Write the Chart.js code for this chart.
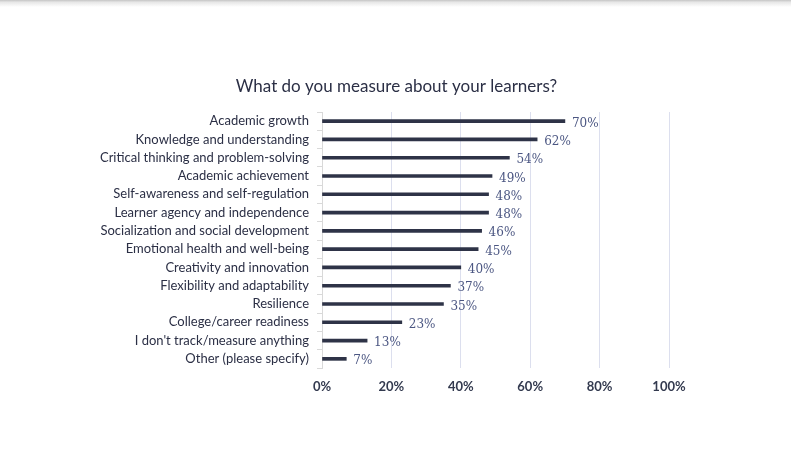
<!DOCTYPE html>
<html>
<head>
<meta charset="utf-8">
<script src="https://cdn.jsdelivr.net/npm/chart.js@4"></script>
<style>
	html, body { margin: 0; padding: 0; background: #fff; }
	#wrap { position: relative; width: 791px; height: 450px; }
	#shade { position: absolute; left: 0; top: 0; width: 791px; height: 7px;
		background: linear-gradient(#c4c4c4, #e6e6e6 30%, rgba(255,255,255,0)); }
</style>
</head>
<body>
<div id="wrap">
	<canvas id="chart" width="791" height="450"></canvas>
	<div id="shade"></div>
</div>
<script>
const chartTitle = 'What do you measure about your learners?'
const categories = [
	'Academic growth',
	'Knowledge and understanding',
	'Critical thinking and problem-solving',
	'Academic achievement',
	'Self-awareness and self-regulation',
	'Learner agency and independence',
	'Socialization and social development',
	'Emotional health and well-being',
	'Creativity and innovation',
	'Flexibility and adaptability',
	'Resilience',
	'College/career readiness',
	"I don't track/measure anything",
	'Other (please specify)'
]
const values = [70, 62, 54, 49, 48, 48, 46, 45, 40, 37, 35, 23, 13, 7]
const xTicks = [0, 20, 40, 60, 80, 100]

/* value labels next to the bar ends, and the title centred on the page */
const valueLabels = {
	id: 'valueLabels',
	afterDatasetsDraw(chart) {
		const ctx = chart.ctx
		const meta = chart.getDatasetMeta(0)
		ctx.save()
		ctx.font = '12px "DejaVu Serif"'
		ctx.fillStyle = '#4b5682'
		ctx.textAlign = 'left'
		ctx.textBaseline = 'middle'
		meta.data.forEach(function(bar, i) {
			ctx.fillText(values[i] + '%', bar.x + 7, bar.y + 2.5)
		})
		ctx.font = '17px Lato'
		ctx.fillStyle = '#2b2f45'
		ctx.textAlign = 'center'
		ctx.fillText(chartTitle, chart.width / 2 + 1, 87)
		ctx.restore()
	}
}

let ctx = document.getElementById('chart')
new Chart(ctx, {
	type: 'bar',
	data: {
		labels: categories,
		datasets: [{
			data: values,
			backgroundColor: '#2e3347',
			barThickness: 3
		}]
	},
	options: {
		indexAxis: 'y',
		responsive: false,
		animation: false,
		layout: { padding: { top: 112, right: 122, bottom: 0, left: 0 } },
		plugins: {
			legend: { display: false },
			tooltip: { enabled: false },
			title: { display: false }
		},
		scales: {
			x: {
				min: 0,
				max: 100,
				afterBuildTicks(scale) {
					scale.ticks = xTicks.map(v => ({ value: v }))
				},
				afterFit(scale) { scale.height = 82 },
				border: { display: false },
				grid: {
					color: function(c) { return c.tick && c.tick.value === 0 ? 'rgba(0,0,0,0)' : '#dcdfee' },
					lineWidth: 1,
					drawTicks: false
				},
				ticks: {
					padding: 11,
					color: '#333a4f',
					font: { family: 'Lato', size: 13, weight: 'bold' },
					callback: v => v + '%'
				}
			},
			y: {
				afterFit(scale) { scale.width = 322 },
				border: { display: true, color: '#d9d9d9' },
				grid: {
					drawOnChartArea: false,
					color: '#d9d9d9',
					tickLength: 5
				},
				ticks: {
					autoSkip: false,
					padding: 8,
					color: '#2b2f45',
					font: { family: 'Lato', size: 13 }
				}
			}
		}
	},
	plugins: [valueLabels]
})
</script>
</body>
</html>
